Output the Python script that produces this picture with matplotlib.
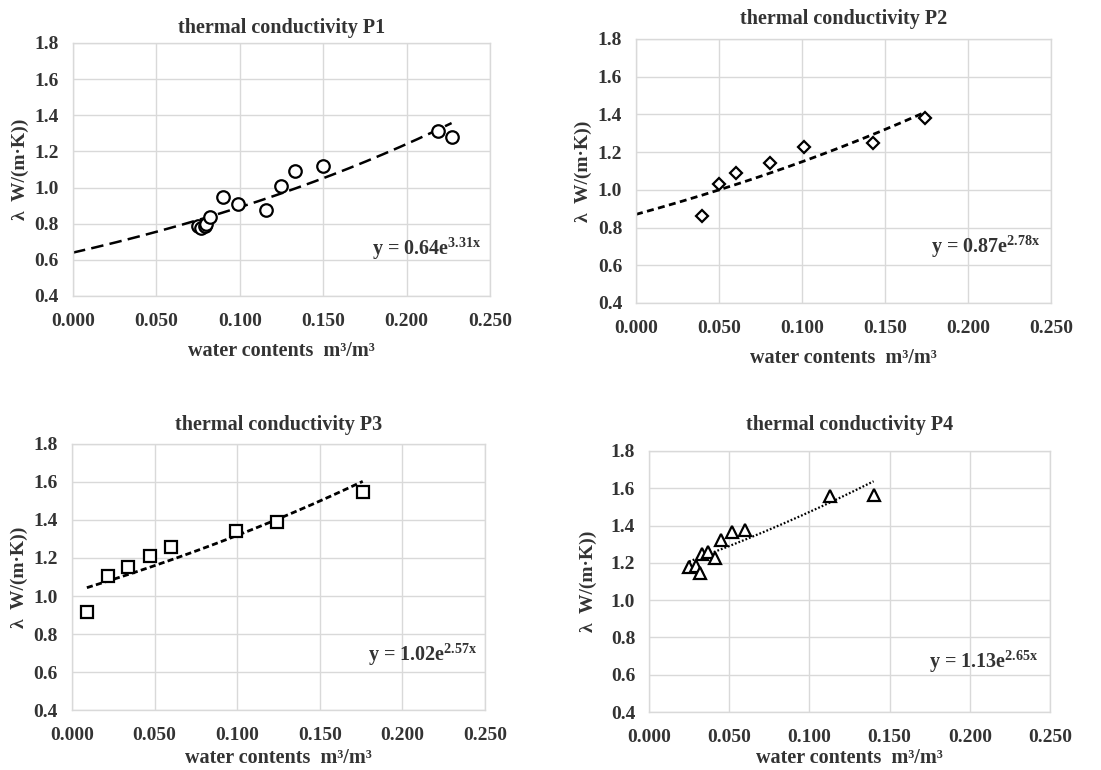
import matplotlib
matplotlib.use("Agg")
import matplotlib.pyplot as plt
import numpy as np

plt.rcParams.update({
    "font.family": ["Liberation Serif", "DejaVu Serif"],
    "font.weight": "bold",
    "axes.labelweight": "bold",
    "axes.titleweight": "bold",
    "mathtext.fontset": "custom",
    "mathtext.rm": "Liberation Serif:bold",
    "mathtext.it": "Liberation Serif:bold",
    "mathtext.bf": "Liberation Serif:bold",
})

# measured water content (m3/m3) and thermal conductivity (W/(m K)) per profile
p1_x = [0.075, 0.077, 0.079, 0.080, 0.082, 0.090, 0.099, 0.116, 0.125, 0.133, 0.150, 0.219, 0.227]
p1_y = [0.790, 0.775, 0.785, 0.800, 0.838, 0.946, 0.909, 0.875, 1.008, 1.090, 1.119, 1.315, 1.277]

p2_x = [0.040, 0.050, 0.060, 0.081, 0.101, 0.143, 0.174]
p2_y = [0.860, 1.031, 1.089, 1.141, 1.229, 1.248, 1.381]

p3_x = [0.009, 0.022, 0.034, 0.047, 0.060, 0.099, 0.124, 0.176]
p3_y = [0.915, 1.106, 1.150, 1.212, 1.259, 1.343, 1.392, 1.547]

p4_x = [0.025, 0.029, 0.032, 0.033, 0.037, 0.041, 0.045, 0.052, 0.060, 0.113, 0.140]
p4_y = [1.178, 1.185, 1.144, 1.245, 1.260, 1.224, 1.320, 1.363, 1.374, 1.559, 1.565]

# exponential fits y = a * exp(b * x)
fit_a = [0.64, 0.87, 1.02, 1.13]
fit_b = [3.31, 2.78, 2.57, 2.65]
fit_from_zero = [True, True, False, False]

titles = ["thermal conductivity P1", "thermal conductivity P2",
          "thermal conductivity P3", "thermal conductivity P4"]

xticks = [0.0, 0.05, 0.10, 0.15, 0.20, 0.25]
yticks = [0.4, 0.6, 0.8, 1.0, 1.2, 1.4, 1.6, 1.8]

panels = [
    dict(x=p1_x, y=p1_y, rect=[0.0663, 0.6156, 0.3787, 0.3286], marker="o", ms=9,
         ls=(0, (5, 2.5)), lw=1.8, tpad=7, ylpad=4, xlpad=8, eq=(0.245, 0.66)),
    dict(x=p2_x, y=p2_y, rect=[0.5777, 0.6065, 0.3769, 0.3429], marker="D", ms=6.5,
         ls=(0, (2.5, 1.6)), lw=2.0, tpad=11, ylpad=4, xlpad=8, eq=(0.244, 0.70)),
    dict(x=p3_x, y=p3_y, rect=[0.0654, 0.0779, 0.3751, 0.3455], marker="s", ms=9,
         ls=(0, (2.2, 1.2)), lw=2.0, tpad=10, ylpad=4, xlpad=3, eq=(0.245, 0.69)),
    dict(x=p4_x, y=p4_y, rect=[0.5895, 0.0753, 0.3642, 0.3390], marker="^", ms=9,
         ls=(0, (0.8, 0.9)), lw=1.6, tpad=15, ylpad=10, xlpad=2, eq=(0.243, 0.67)),
]

fig = plt.figure(figsize=(11.01, 7.70), dpi=100)

for i, p in enumerate(panels):
    ax = fig.add_axes(p["rect"])
    xs = np.array(p["x"])
    ys = np.array(p["y"])

    ax.plot(xs, ys, linestyle="none", marker=p["marker"], ms=p["ms"],
            mfc="white", mec="black", mew=1.6, zorder=3)

    x0 = 0.0 if fit_from_zero[i] else xs.min()
    xf = np.linspace(x0, xs.max(), 200)
    ax.plot(xf, fit_a[i] * np.exp(fit_b[i] * xf), color="black",
            linestyle=p["ls"], lw=p["lw"], zorder=2)

    ax.text(p["eq"][0], p["eq"][1],
            "y = %.2fe$^{%.2fx}$" % (fit_a[i], fit_b[i]),
            ha="right", va="center", fontsize=14.5, color="#333333")

    ax.set_xlim(0, 0.25)
    ax.set_ylim(0.4, 1.8)
    ax.set_xticks(xticks)
    ax.set_yticks(yticks)
    ax.set_xticklabels(["%.3f" % t for t in xticks])
    ax.set_yticklabels(["%.1f" % t for t in yticks])
    ax.tick_params(length=0, labelsize=14, colors="#333333")
    ax.tick_params(axis="x", pad=12)
    ax.tick_params(axis="y", pad=10)
    ax.grid(True, color="#d9d9d9", lw=1)
    for s in ax.spines.values():
        s.set_color("#d9d9d9")
        s.set_linewidth(1)
    ax.set_axisbelow(True)

    ax.set_title(titles[i], fontsize=14.5, color="#333333", pad=p["tpad"])
    ax.set_xlabel("water contents  m\u00b3/m\u00b3", fontsize=14.5,
                  color="#333333", labelpad=p["xlpad"])
    ax.set_ylabel("\u03bb  W/(m\u00b7K))", fontsize=14, color="#333333",
                  labelpad=p["ylpad"])

fig.savefig("out.png", dpi=100)
